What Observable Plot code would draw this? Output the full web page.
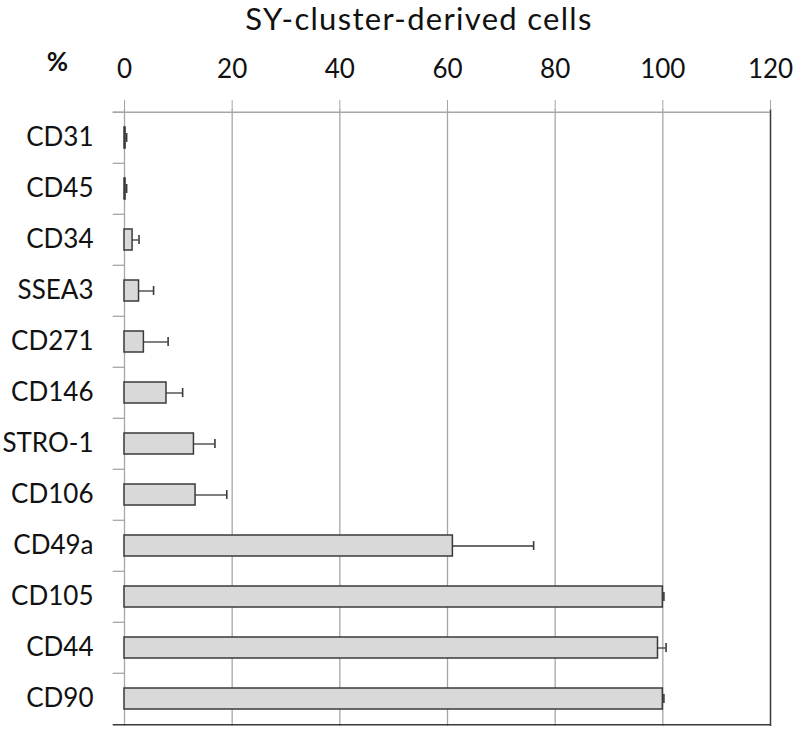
<!DOCTYPE html>
<html>
<head>
<meta charset="utf-8">
<script src="https://cdn.jsdelivr.net/npm/d3@7"></script>
<script src="https://cdn.jsdelivr.net/npm/@observablehq/plot@0.6"></script>
<style>
  body { margin: 0; background: white; font-family: Lato, sans-serif; }
  #title { height: 36px; width: 600px; margin-left: 119px; text-align: center; font: 31px Lato, sans-serif; letter-spacing: 1.3px; line-height: 36px; color: #111; overflow: visible; white-space: nowrap; }
</style>
</head>
<body>
<div id="title">SY-cluster-derived cells</div>
<div id="chart"></div>
<script>
const categories = ["CD31","CD45","CD34","SSEA3","CD271","CD146","STRO-1","CD106","CD49a","CD105","CD44","CD90"];
const values = [0.2, 0.2, 1.5, 2.7, 3.6, 7.8, 12.9, 13.2, 61.0, 100, 99.1, 100];
const errors = [0.2, 0.2, 1.2, 2.7, 4.5, 3.0, 3.9, 5.8, 15.0, 0.2, 1.5, 0.2];
const xTicks = [0, 20, 40, 60, 80, 100, 120];
const unitLabel = ["%"];

const data = categories.map((c, i) => ({cat: c, v: values[i], e: errors[i]}));

const H = 693, MT = 73, MB = 3;
const step = (H - MT - MB) / categories.length;
const grey = "#a6a6a6", dark = "#3a3a3a";

const chart = Plot.plot({
  width: 795,
  height: H,
  marginTop: MT,
  marginBottom: MB,
  marginLeft: 124,
  marginRight: 25,
  style: {fontFamily: "Lato, sans-serif", color: "#111", background: "white"},
  x: {domain: [0, 120]},
  y: {domain: categories, paddingInner: 0.59, paddingOuter: 0.295},
  marks: [
    Plot.ruleX(xTicks.slice(0, -1), {stroke: grey, strokeWidth: 1.3}),
    Plot.ruleX([120], {stroke: dark, strokeWidth: 1.5}),
    Plot.ruleY(categories, {y: d => d, x1: -2.1, x2: 0, dy: -step / 2, stroke: grey, strokeWidth: 1.3}),
    Plot.ruleY([categories[0]], {y: d => d, x1: -2.1, x2: 120, dy: -step / 2, stroke: grey, strokeWidth: 1.5}),
    Plot.ruleY([categories[categories.length - 1]], {y: d => d, x1: -2.1, x2: 120, dy: step / 2, stroke: dark, strokeWidth: 1.5}),
    Plot.ruleY(data, {y: "cat", x1: "v", x2: d => d.v + d.e, stroke: dark, strokeWidth: 1.3}),
    Plot.tickX(data, {y: "cat", x: d => d.v + d.e, stroke: dark, strokeWidth: 1.6, insetTop: 6, insetBottom: 6}),
    Plot.barX(data, {y: "cat", x: "v", fill: "#d9d9d9", stroke: dark, strokeWidth: 1.5}),
    Plot.axisX({anchor: "top", ticks: xTicks, tickSize: 10, tickPadding: 22, stroke: grey, fill: "#111", fontSize: 26, label: null, tickFormat: d => String(d)}),
    Plot.axisY({anchor: "left", tickSize: 0, tickPadding: 31, fontSize: 26, fill: "#111", label: null}),
    Plot.text(unitLabel, {frameAnchor: "top-left", textAnchor: "middle", lineAnchor: "middle", dx: -67, dy: -47, fontSize: 26, fontWeight: "bold", fill: "#111", text: d => d})
  ]
});
document.getElementById("chart").appendChild(chart);
</script>
</body>
</html>
